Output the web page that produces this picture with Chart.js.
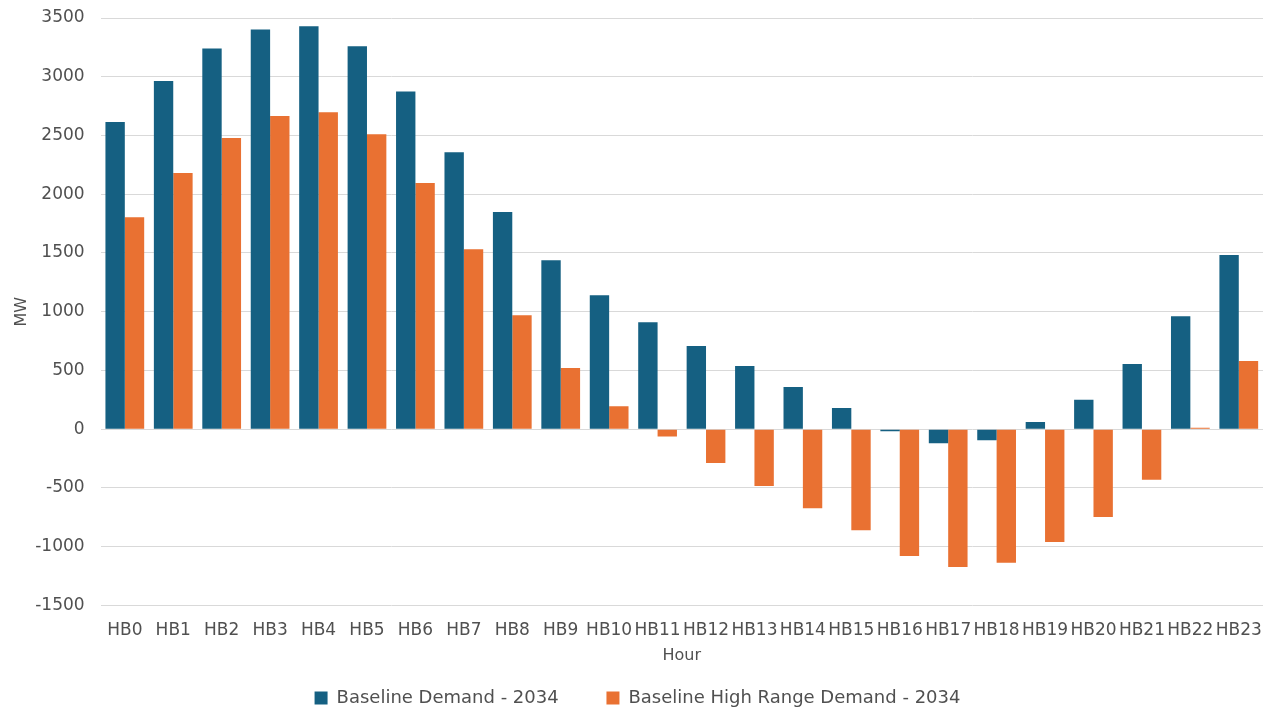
<!DOCTYPE html>
<html>
<head>
<meta charset="utf-8">
<script src="https://cdn.jsdelivr.net/npm/chart.js@4"></script>
<style>
  html, body { margin: 0; padding: 0; background: #ffffff; }
  #wrap { width: 1270px; height: 711px; }
</style>
</head>
<body>
<div id="wrap"><canvas id="demandChart"></canvas></div>
<script>
const hours = ["HB0", "HB1", "HB2", "HB3", "HB4", "HB5", "HB6", "HB7", "HB8", "HB9", "HB10", "HB11",
    "HB12", "HB13", "HB14", "HB15", "HB16", "HB17", "HB18", "HB19", "HB20", "HB21", "HB22", "HB23"]
const baseline = [2615, 2963, 3240, 3403, 3430, 3260, 2875, 2357, 1848, 1437, 1140, 910,
    708, 538, 360, 180, -18, -120, -95, 62, 250, 555, 962, 1482]
const highRange = [1805, 2180, 2478, 2665, 2697, 2510, 2095, 1532, 970, 520, 195, -62,
    -288, -483, -672, -860, -1080, -1173, -1138, -960, -747, -430, 12, 580]
const yTicks = [-1500, -1000, -500, 0, 500, 1000, 1500, 2000, 2500, 3000, 3500]

Chart.defaults.font.family = "'DejaVu Sans', sans-serif";
Chart.defaults.color = "#505050";

const ctx = document.getElementById('demandChart').getContext('2d');

const demandChart = new Chart(ctx, {
    type: 'bar',
    data: {
        labels: hours,
        datasets: [{
            label: 'Baseline Demand - 2034',
            data: baseline,
            backgroundColor: '#156082',
        },
        {
            label: 'Baseline High Range Demand - 2034',
            data: highRange,
            backgroundColor: '#e97132',
        }]
    },
    options: {
        responsive: true,
        maintainAspectRatio: false,
        animation: false,
        layout: {
            // bottom is negative so the legend sits as low as Excel's
            padding: { left: 12, right: 7, top: 18, bottom: -6 }
        },
        datasets: {
            bar: {
                categoryPercentage: 0.8,
                barPercentage: 1.0,
            }
        },
        scales: {
            x: {
                // tick marks are hidden, tickLength only spaces the labels
                grid: { display: false, drawTicks: true, tickLength: 15 },
                border: { display: false },
                ticks: {
                    font: { size: 17 },
                    padding: 0,
                    maxRotation: 0,
                    autoSkip: false,
                },
                title: {
                    display: true,
                    text: 'Hour',
                    font: { size: 16 },
                    padding: { top: 5, bottom: 22 },
                },
            },
            y: {
                min: -1500,
                max: 3500,
                afterBuildTicks: axis => {
                    axis.ticks = yTicks.map(v => ({ value: v }))
                },
                grid: {
                    color: '#d9d9d9',
                    lineWidth: 1,
                    drawTicks: true,
                    tickLength: 16,
                    tickColor: 'rgba(0,0,0,0)',
                },
                border: { display: false },
                ticks: {
                    font: { size: 17 },
                    padding: 0,
                    callback: v => String(v),
                },
                title: {
                    display: true,
                    text: 'MW',
                    font: { size: 16 },
                    padding: { top: 0, bottom: 4 },
                },
            },
        },
        plugins: {
            legend: {
                position: 'bottom',
                labels: {
                    font: { size: 18 },
                    boxWidth: 13,
                    boxHeight: 13,
                    padding: 2,
                    // Excel leaves a wide gap between the two entries
                    generateLabels: chart => {
                        const items = Chart.defaults.plugins.legend.labels.generateLabels(chart);
                        items[0].text = items[0].text + '        ';
                        return items;
                    },
                },
            },
            tooltip: { enabled: false },
        },
    },
})
</script>
</body>
</html>
